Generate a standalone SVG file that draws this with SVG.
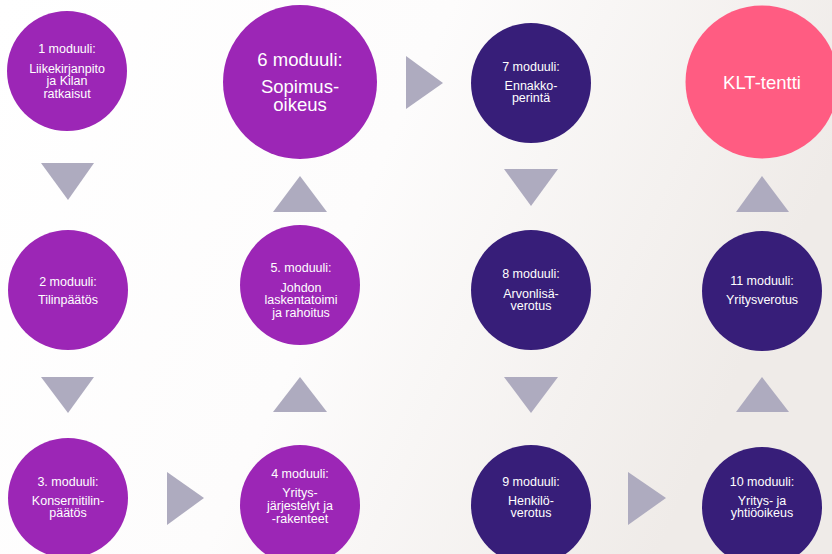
<svg xmlns="http://www.w3.org/2000/svg" width="832" height="554" viewBox="0 0 832 554">
<defs>
<linearGradient id="bg" x1="0" y1="0" x2="1" y2="0.3">
<stop offset="0" stop-color="#ffffff"/>
<stop offset="0.5" stop-color="#fdfcfc"/>
<stop offset="1" stop-color="#efebe8"/>
</linearGradient>
</defs>
<style>
.p{fill:#9c26b6}
.d{fill:#371e79}
.k{fill:#ff5c82}
.a{fill:#aeabbf}
text{font-family:"Liberation Sans",Arial,sans-serif;fill:#ffffff;text-anchor:middle}
.s{font-size:12.5px}
.b{font-size:18.5px}
</style>
<rect width="832" height="554" fill="url(#bg)"/>
<g id="connectors">
<polygon class="a" points="41,163 94,163 68,200"/>
<polygon class="a" points="41,377 94,377 68,413"/>
<polygon class="a" points="167,472 204,498 167,525"/>
<polygon class="a" points="273,412 327,412 300,377"/>
<polygon class="a" points="273,212 327,212 300,176"/>
<polygon class="a" points="406,56 443,83 406,109"/>
<polygon class="a" points="504,169 558,169 531,206"/>
<polygon class="a" points="504,377 558,377 531,413"/>
<polygon class="a" points="628,472 666,498 628,525"/>
<polygon class="a" points="736,412 789,412 762,377"/>
<polygon class="a" points="736,212 789,212 762,176"/>
</g>
<g id="m1">
<circle class="p" cx="67" cy="71" r="60"/>
<text class="s" x="67" y="53">1 moduuli:</text>
<text class="s" x="67" y="72.5">Liikekirjanpito</text>
<text class="s" x="67" y="85">ja Kilan</text>
<text class="s" x="67" y="97.5">ratkaisut</text>
</g>
<g id="m2">
<circle class="p" cx="68" cy="290" r="60"/>
<text class="s" x="68" y="285.5">2 moduuli:</text>
<text class="s" x="68" y="304">Tilinpäätös</text>
</g>
<g id="m3">
<circle class="p" cx="68" cy="498" r="60"/>
<text class="s" x="68" y="485.5">3. moduuli:</text>
<text class="s" x="68" y="505">Konsernitilin-</text>
<text class="s" x="68" y="516.5">päätös</text>
</g>
<g id="m4">
<circle class="p" cx="300" cy="505" r="60"/>
<text class="s" x="300" y="478">4 moduuli:</text>
<text class="s" x="300" y="497">Yritys-</text>
<text class="s" x="300" y="510">järjestelyt ja</text>
<text class="s" x="300" y="523">-rakenteet</text>
</g>
<g id="m5">
<circle class="p" cx="300" cy="285" r="60"/>
<text class="s" x="301" y="271.5">5. moduuli:</text>
<text class="s" x="301" y="291.5">Johdon</text>
<text class="s" x="301" y="303.5">laskentatoimi</text>
<text class="s" x="301" y="316.5">ja rahoitus</text>
</g>
<g id="m6">
<circle class="p" cx="300" cy="82" r="77"/>
<text class="b" x="300" y="66">6 moduuli:</text>
<text class="b" x="300" y="93">Sopimus-</text>
<text class="b" x="300" y="111">oikeus</text>
</g>
<g id="m7">
<circle class="d" cx="531" cy="83" r="60"/>
<text class="s" x="531" y="70.5">7 moduuli:</text>
<text class="s" x="531" y="90">Ennakko-</text>
<text class="s" x="531" y="101.5">perintä</text>
</g>
<g id="m8">
<circle class="d" cx="531" cy="290" r="60"/>
<text class="s" x="531" y="277.5">8 moduuli:</text>
<text class="s" x="531" y="297.5">Arvonlisä-</text>
<text class="s" x="531" y="309.5">verotus</text>
</g>
<g id="m9">
<circle class="d" cx="531" cy="505" r="60"/>
<text class="s" x="531" y="485.5">9 moduuli:</text>
<text class="s" x="531" y="505">Henkilö-</text>
<text class="s" x="531" y="516.5">verotus</text>
</g>
<g id="m10">
<circle class="d" cx="762" cy="507" r="60"/>
<text class="s" x="762" y="485.5">10 moduuli:</text>
<text class="s" x="762" y="505">Yritys- ja</text>
<text class="s" x="762" y="516.5">yhtiöoikeus</text>
</g>
<g id="m11">
<circle class="d" cx="762" cy="291" r="60"/>
<text class="s" x="762" y="285">11 moduuli:</text>
<text class="s" x="762" y="304">Yritysverotus</text>
</g>
<g id="klt">
<circle class="k" cx="762" cy="82" r="76.5"/>
<text class="b" x="762" y="89">KLT-tentti</text>
</g>
</svg>
